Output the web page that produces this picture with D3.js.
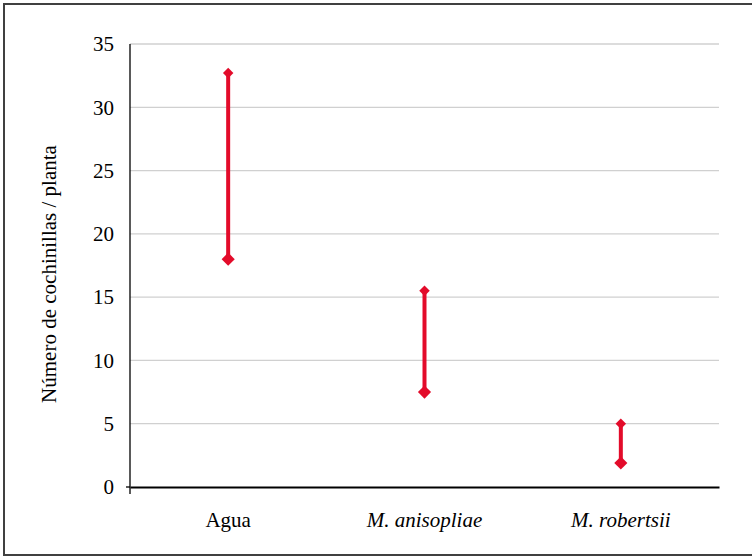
<!DOCTYPE html>
<html>
<head>
<meta charset="utf-8">
<script src="https://cdn.jsdelivr.net/npm/d3@7"></script>
<style>
  body { margin: 0; background: #fff; }
  svg { display: block; }
  svg text { font-family: "Liberation Serif", "DejaVu Serif", serif; }
</style>
</head>
<body>
<div id="chart"></div>
<script>
// data
var categories = ["Agua", "M. anisopliae", "M. robertsii"];
var italicLabels = [false, true, true];
var highValues = [32.7, 15.5, 5.0];
var lowValues = [18.0, 7.5, 1.9];
var yTicks = [0, 5, 10, 15, 20, 25, 30, 35];

var W = 752, H = 557;
var margin = {top: 44, right: 33, bottom: 70, left: 130},
    width = 719 - margin.left,
    height = 487 - margin.top;

var svg = d3.select("#chart").append("svg")
    .attr("width", W)
    .attr("height", H);

// outer frame
svg.append("rect")
    .attr("x", 4).attr("y", 4)
    .attr("width", 752).attr("height", 551)
    .attr("fill", "none")
    .attr("stroke", "#404040")
    .attr("stroke-width", 2);

var x = d3.scaleBand()
    .domain(categories)
    .range([0, width]);

var y = d3.scaleLinear()
    .domain([0, 35])
    .range([height, 0]);

var graph = svg.append("g")
    .attr("transform", "translate(" + margin.left + "," + margin.top + ")");

// gridlines
graph.selectAll(".grid")
    .data(yTicks.filter(function(d) { return d > 0; }))
    .enter().append("line")
    .attr("class", "grid")
    .attr("x1", 0).attr("x2", width)
    .attr("y1", function(d) { return y(d); })
    .attr("y2", function(d) { return y(d); })
    .attr("stroke", "#d0d0d0")
    .attr("stroke-width", 1.3);

// y axis
var yAxis = graph.append("g")
    .call(d3.axisLeft(y).tickValues(yTicks).tickSize(0).tickPadding(16));
yAxis.select(".domain").remove();
yAxis.selectAll("text")
    .attr("font-size", 21)
    .attr("fill", "#000");

graph.append("line")
    .attr("x1", 0).attr("x2", 0)
    .attr("y1", 0).attr("y2", height + 7)
    .attr("stroke", "#000").attr("stroke-width", 1.3);
graph.append("line")
    .attr("x1", -4).attr("x2", 0)
    .attr("y1", height).attr("y2", height)
    .attr("stroke", "#000").attr("stroke-width", 1.3);

// x axis
var xAxis = graph.append("g")
    .attr("transform", "translate(0," + height + ")")
    .call(d3.axisBottom(x).tickSize(0).tickPadding(25));
xAxis.select(".domain")
    .attr("stroke", "#000")
    .attr("stroke-width", 1.8);
xAxis.selectAll("text")
    .attr("font-size", 21)
    .attr("fill", "#000")
    .attr("font-style", function(d, i) { return italicLabels[i] ? "italic" : "normal"; });

// y title
svg.append("text")
    .attr("transform", "translate(56,274) rotate(-90)")
    .attr("text-anchor", "middle")
    .attr("font-size", 21)
    .attr("fill", "#000")
    .text("Número de cochinillas / planta");

// high-low lines
var red = "#e30b2a";
var cx = function(i) { return x(categories[i]) + x.bandwidth() / 2; };

graph.selectAll(".hl")
    .data(categories)
    .enter().append("line")
    .attr("class", "hl")
    .attr("x1", function(d, i) { return cx(i); })
    .attr("x2", function(d, i) { return cx(i); })
    .attr("y1", function(d, i) { return y(highValues[i]); })
    .attr("y2", function(d, i) { return y(lowValues[i]); })
    .attr("stroke", red)
    .attr("stroke-width", 4);

var diamond = d3.symbol().type(d3.symbolDiamond2).size(70);
var diamondBig = d3.symbol().type(d3.symbolDiamond2).size(110);

graph.selectAll(".hi")
    .data(categories)
    .enter().append("path")
    .attr("class", "hi")
    .attr("d", diamond)
    .attr("transform", function(d, i) { return "translate(" + cx(i) + "," + y(highValues[i]) + ")"; })
    .attr("fill", red);

graph.selectAll(".lo")
    .data(categories)
    .enter().append("path")
    .attr("class", "lo")
    .attr("d", diamondBig)
    .attr("transform", function(d, i) { return "translate(" + cx(i) + "," + y(lowValues[i]) + ")"; })
    .attr("fill", red);
</script>
</body>
</html>
